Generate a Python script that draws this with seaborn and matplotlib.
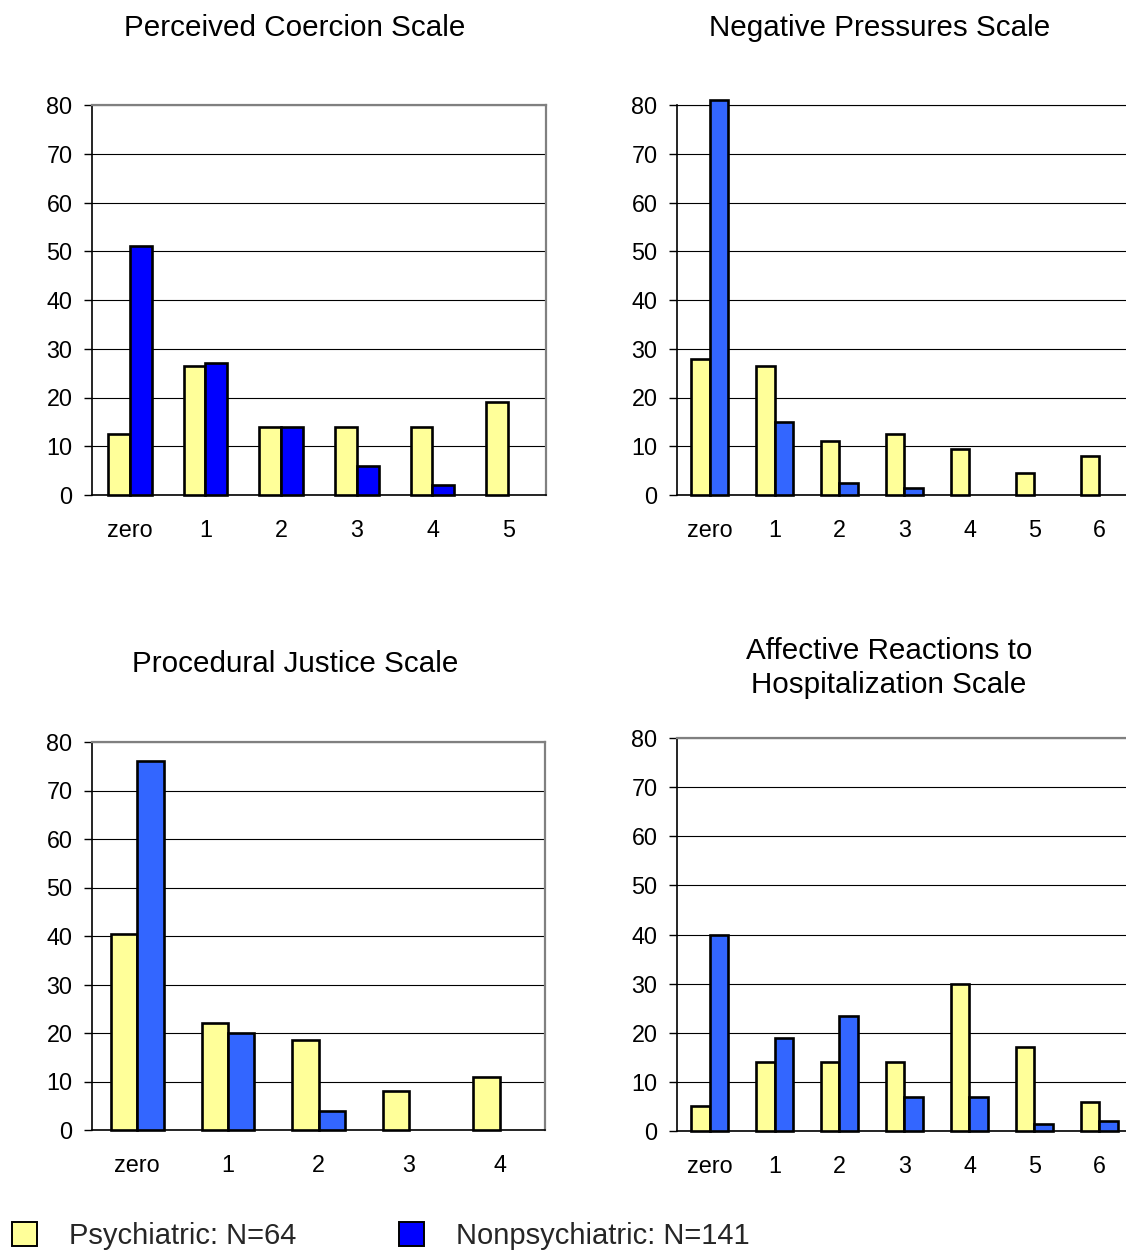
import numpy as np
import pandas as pd
import matplotlib
matplotlib.use("Agg")
import matplotlib.pyplot as plt
from matplotlib.patches import Patch
import seaborn as sns

# Percentage of respondents at each scale score
coercion_cats = ["zero", "1", "2", "3", "4", "5"]
coercion_psych = [12.5, 26.5, 14, 14, 14, 19]
coercion_nonpsych = [51, 27, 14, 6, 2, 0]

pressure_cats = ["zero", "1", "2", "3", "4", "5", "6"]
pressure_psych = [28, 26.5, 11, 12.5, 9.5, 4.5, 8]
pressure_nonpsych = [81, 15, 2.5, 1.5, 0, 0, 0]

justice_cats = ["zero", "1", "2", "3", "4"]
justice_psych = [40.5, 22, 18.5, 8, 11]
justice_nonpsych = [76, 20, 4, 0, 0]

affect_cats = ["zero", "1", "2", "3", "4", "5", "6"]
affect_psych = [5, 14, 14, 14, 30, 17, 6]
affect_nonpsych = [40, 19, 23.5, 7, 7, 1.5, 2]

groups = ["Psychiatric: N=64", "Nonpsychiatric: N=141"]
yticks = list(range(0, 81, 10))

YELLOW = "#FFFF99"
BLUE = "#0000FF"
BLUE2 = "#3366FF"

sns.set_style("white")
plt.rcParams["font.family"] = ["Liberation Sans", "DejaVu Sans"]

W, H = 1126, 1251
fig = plt.figure(figsize=(W / 100, H / 100), dpi=100)


def px_axes(left, top, right, bottom):
    return fig.add_axes([left / W, 1 - bottom / H, (right - left) / W, (bottom - top) / H])


def panel(ax, cats, psych, nonpsych, blue):
    df = pd.DataFrame({
        "score": cats * 2,
        "pct": list(psych) + list(nonpsych),
        "group": [groups[0]] * len(cats) + [groups[1]] * len(cats),
    })
    sns.barplot(data=df, x="score", y="pct", hue="group", order=cats,
                hue_order=groups, palette=[YELLOW, blue], saturation=1,
                width=0.58, edgecolor="black", linewidth=1.9,
                errorbar=None, legend=False, ax=ax)
    for p in ax.patches:
        p.set_clip_on(False)
        p.set_zorder(3)
        if p.get_height() == 0:
            p.set_visible(False)
    n = len(cats)
    ax.set_xlim(-0.5, n - 0.5)
    ax.set_ylim(0, 80)
    ax.set_yticks(yticks)
    ax.set_yticklabels([str(v) for v in yticks], fontsize=16.8)
    ax.set_xticks(range(n))
    ax.set_xticklabels(cats, fontsize=16.8)
    ax.set_xticks(np.arange(-0.5, n, 1), minor=True)
    ax.tick_params(axis="x", which="major", length=0, pad=17.5)
    ax.tick_params(axis="x", which="minor", length=6, width=1, color="black", direction="out")
    ax.tick_params(axis="y", length=6, width=1, color="black", direction="out", pad=8, left=True)
    ax.set_xlabel("")
    ax.set_ylabel("")
    ax.yaxis.grid(True, color="black", linewidth=0.8)
    ax.xaxis.grid(False)
    ax.set_axisbelow(True)
    for s in ("left", "bottom"):
        ax.spines[s].set_color("black")
        ax.spines[s].set_linewidth(1.2)
    for s in ("top", "right"):
        ax.spines[s].set_color("#808080")
        ax.spines[s].set_linewidth(1.6)
    for t in ax.get_xticklabels() + ax.get_yticklabels():
        t.set_color("black")


ax1 = px_axes(92, 105, 546, 495)
ax2 = px_axes(677, 105, 1132, 495)
ax3 = px_axes(92, 742, 545, 1130)
ax4 = px_axes(677, 738, 1132, 1131)

panel(ax1, coercion_cats, coercion_psych, coercion_nonpsych, BLUE)
panel(ax2, pressure_cats, pressure_psych, pressure_nonpsych, BLUE2)
panel(ax3, justice_cats, justice_psych, justice_nonpsych, BLUE2)
panel(ax4, affect_cats, affect_psych, affect_nonpsych, BLUE2)
ax2.spines["top"].set_color("black")
ax2.spines["top"].set_linewidth(0.8)

title_kw = dict(ha="center", va="center", fontsize=21.3, color="black")
fig.text(295 / W, 1 - 28 / H, "Perceived Coercion Scale", **title_kw)
fig.text(880 / W, 1 - 28 / H, "Negative Pressures Scale", **title_kw)
fig.text(295 / W, 1 - 664 / H, "Procedural Justice Scale", **title_kw)
fig.text(889 / W, 1 - 668 / H, "Affective Reactions to\nHospitalization Scale",
         linespacing=1.28, **title_kw)

handles = [Patch(facecolor=YELLOW, edgecolor="black", linewidth=1.4, label=groups[0]),
           Patch(facecolor=BLUE, edgecolor="black", linewidth=1.4, label=groups[1])]
fig.legend(handles=handles, loc="lower left", bbox_to_anchor=(12 / W, 1 / H),
           ncol=2, frameon=False, fontsize=21, handlelength=0.85, handleheight=0.85,
           handletextpad=1.12, columnspacing=3.5, borderpad=0, borderaxespad=0)

fig.savefig("out.png", dpi=100, facecolor="white")
